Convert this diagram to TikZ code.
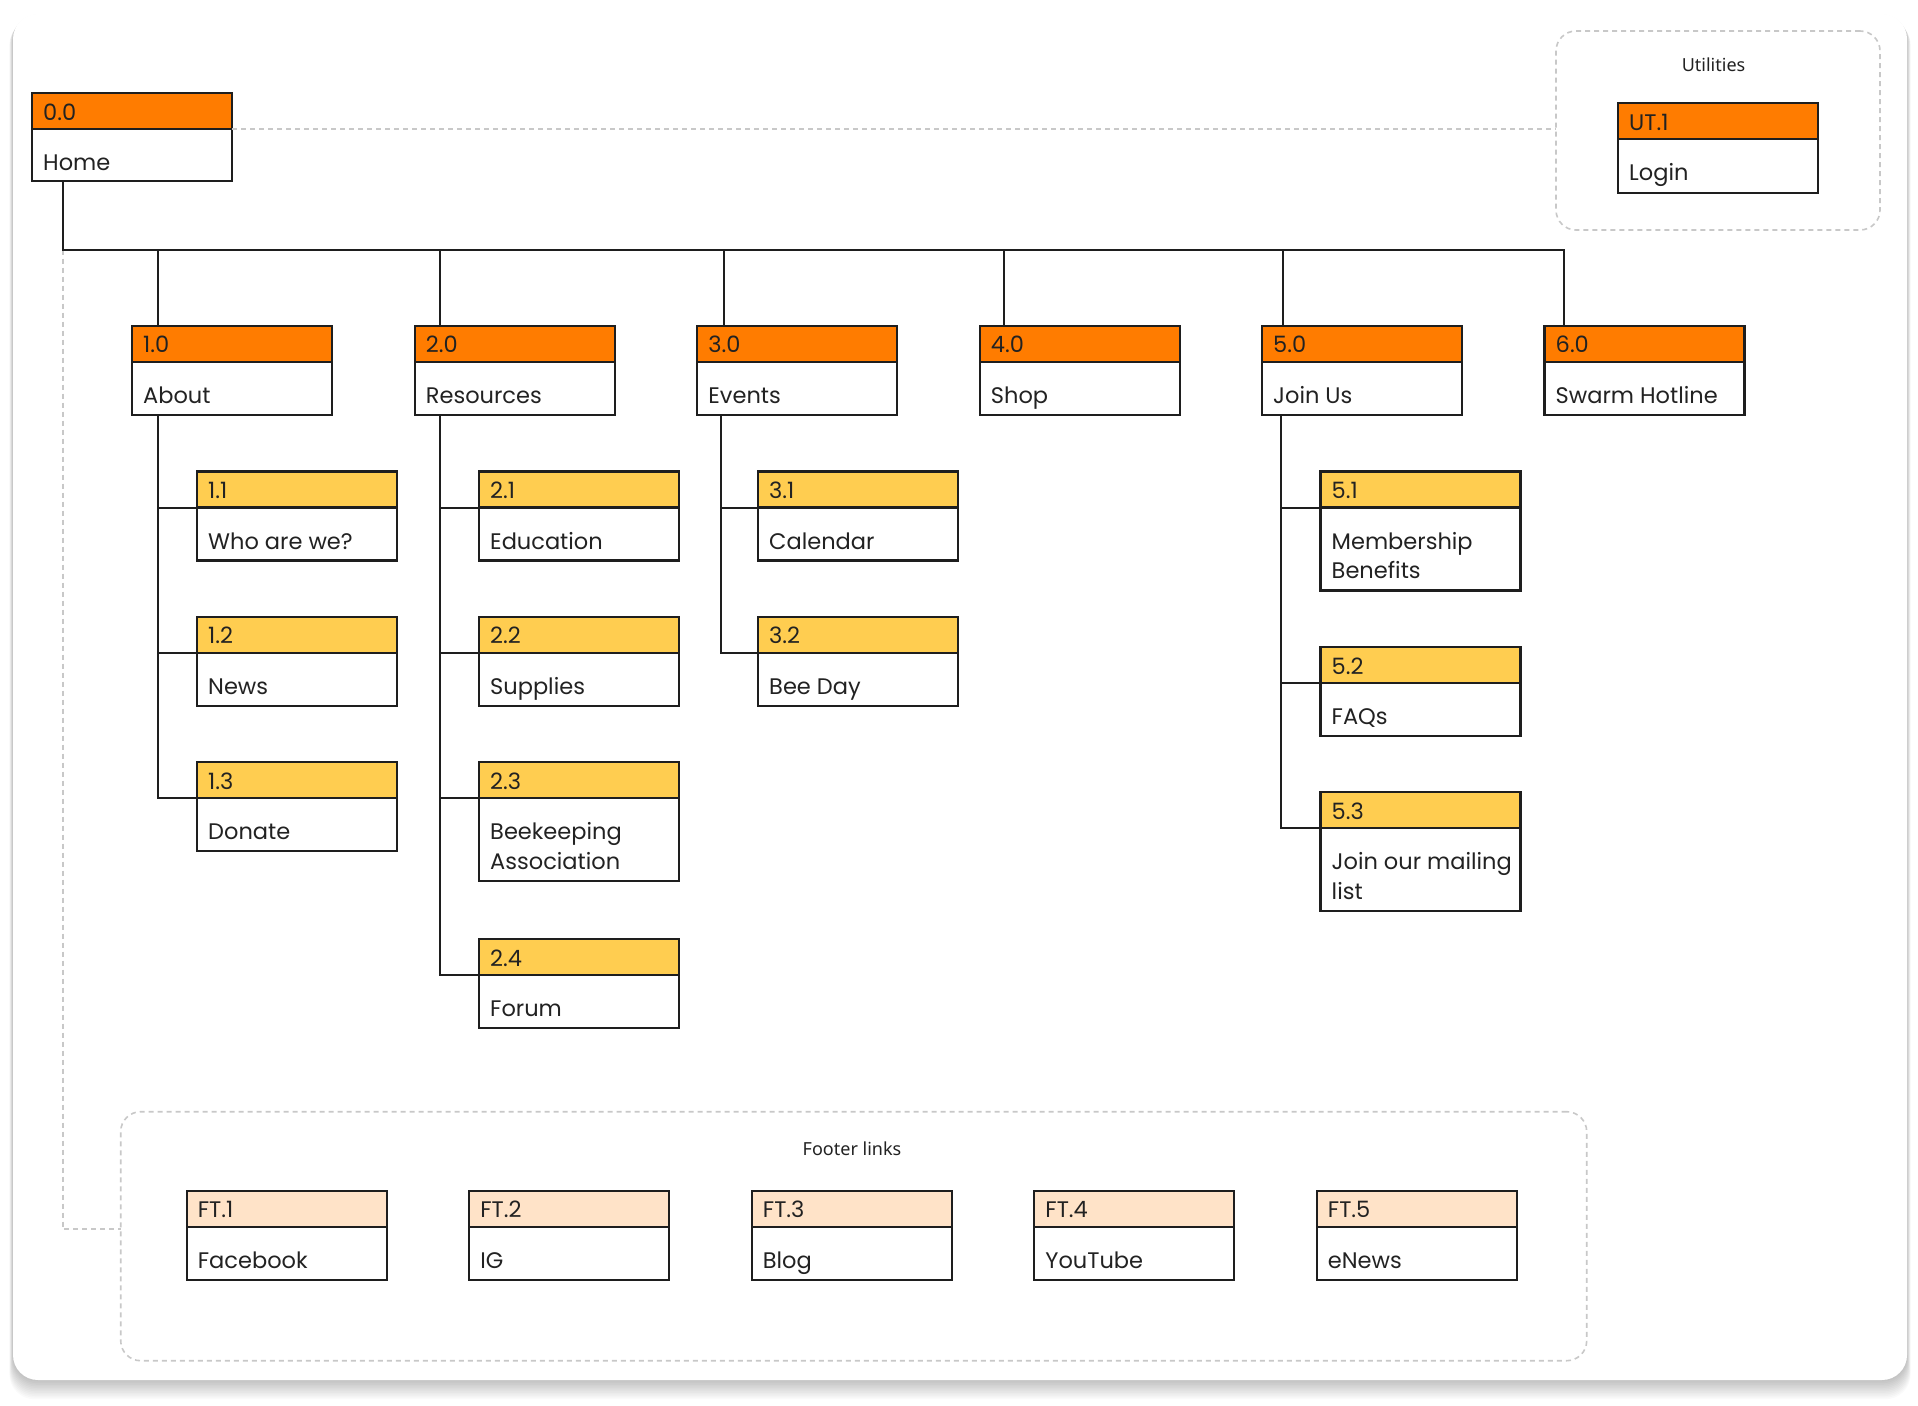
\documentclass[tikz,border=0pt]{standalone}
\usepackage{fontspec}
\setmainfont{Poppins}
\newfontfamily\labelfont{Noto Sans}
\usetikzlibrary{calc}

\definecolor{hdrorange}{HTML}{FF7C00}
\definecolor{hdryellow}{HTML}{FFCD50}
\definecolor{hdrpeach}{HTML}{FFE3C8}
\definecolor{ink}{HTML}{1E1E1E}
\definecolor{textink}{HTML}{222222}
\definecolor{dashgray}{HTML}{C8C8C8}

\tikzset{
  headbox/.style={draw=ink, line width=2.2pt, minimum width=200pt, minimum height=36pt,
    anchor=north west, outer sep=0pt, inner sep=0pt},
  bodybox/.style={draw=ink, line width=2.2pt, fill=white, minimum width=200pt,
    anchor=north west, outer sep=0pt, inner sep=0pt},
  idtext/.style={anchor=base west, inner sep=0pt, text=textink, font=\fontsize{22.5}{29}\selectfont},
  titletext/.style={anchor=base west, inner sep=0pt, text=textink, font=\fontsize{22.5}{29.3}\selectfont},
  link/.style={draw=ink, line width=2pt},
  dashlink/.style={draw=dashgray, line width=1.6pt, dash pattern=on 5pt off 4pt},
  groupbox/.style={draw=dashgray, line width=1.6pt, dash pattern=on 5pt off 4pt,
    rounded corners=20pt, anchor=north west, inner sep=0pt, outer sep=0pt},
  grouplabel/.style={anchor=base, inner sep=0pt, text=textink, font=\labelfont\fontsize{18}{20}\selectfont},
}

% #1 name, #2 x, #3 y, #4 number, #5 title, #6 header colour, #7 body height
\newcommand\pagebox[7]{%
  \node[headbox, fill=#6] (#1h) at (#2,#3) {};
  \node[bodybox, minimum height=#7] (#1) at (#1h.south west) {};
  \node[idtext] (#1id) at ([shift={(11pt,-27pt)}]#1h.north west) {#4};
  \node[titletext] (#1t) at ([shift={(11pt,-41.5pt)}]#1.north west)
    {\parbox[t]{240pt}{\raggedright #5}};
}

\begin{document}
\begin{tikzpicture}[x=1pt, y=-1pt]
\useasboundingbox (0,0) rectangle (1918,1405);
\fill[white] (0,0) rectangle (1918,1405);

% card with soft shadow
\foreach \i in {1,...,12}{
  \fill[black, opacity=0.018, rounded corners=25pt]
    (13-0.3*\i, 14+0.5*\i) rectangle (1907+0.3*\i, 1380+1.6*\i);
}
\fill[white, rounded corners=25pt] (13,14) rectangle (1907,1380);

% group frames
\node[groupbox, minimum width=324pt, minimum height=199pt] (util) at (1556,31) {};
\node[grouplabel] (utillbl) at (1713.5,71.7) {Utilities};
\node[groupbox, minimum width=1466pt, minimum height=249pt] (footer) at (120.7,1111.7) {};
\node[grouplabel] (footlbl) at (852,1155) {Footer links};

% home and first level
\pagebox{home}{32}{93}{0.0}{Home}{hdrorange}{52pt}
\pagebox{n1}{132}{325.7}{1.0}{About}{hdrorange}{53pt}
\pagebox{n2}{414.7}{325.7}{2.0}{Resources}{hdrorange}{53pt}
\pagebox{n3}{697.2}{325.7}{3.0}{Events}{hdrorange}{53pt}
\pagebox{n4}{979.7}{325.7}{4.0}{Shop}{hdrorange}{53pt}
\pagebox{n5}{1262}{325.7}{5.0}{Join Us}{hdrorange}{53pt}
\pagebox{n6}{1544.5}{325.7}{6.0}{Swarm Hotline}{hdrorange}{53pt}

% second level
\pagebox{n11}{197}{471.5}{1.1}{Who are we?}{hdryellow}{53pt}
\pagebox{n12}{197}{616.7}{1.2}{News}{hdryellow}{53pt}
\pagebox{n13}{197}{762}{1.3}{Donate}{hdryellow}{53pt}
\pagebox{n21}{479}{471.5}{2.1}{Education}{hdryellow}{53pt}
\pagebox{n22}{479}{616.7}{2.2}{Supplies}{hdryellow}{53pt}
\pagebox{n23}{479}{762.3}{2.3}{Beekeeping\\Association}{hdryellow}{83pt}
\pagebox{n24}{479}{939}{2.4}{Forum}{hdryellow}{53pt}
\pagebox{n31}{758}{471.5}{3.1}{Calendar}{hdryellow}{53pt}
\pagebox{n32}{758}{616.7}{3.2}{Bee Day}{hdryellow}{53pt}
\pagebox{n51}{1320.5}{471.5}{5.1}{Membership\\Benefits}{hdryellow}{83pt}
\pagebox{n52}{1320.5}{647.3}{5.2}{FAQs}{hdryellow}{53pt}
\pagebox{n53}{1320.5}{792.3}{5.3}{Join our mailing\\list}{hdryellow}{83pt}

% utilities
\pagebox{ut1}{1618}{103}{UT.1}{Login}{hdrorange}{54pt}

% footer links
\pagebox{ft1}{186.7}{1190.7}{FT.1}{Facebook}{hdrpeach}{53pt}
\pagebox{ft2}{469.2}{1190.7}{FT.2}{IG}{hdrpeach}{53pt}
\pagebox{ft3}{751.7}{1190.7}{FT.3}{Blog}{hdrpeach}{53pt}
\pagebox{ft4}{1034.2}{1190.7}{FT.4}{YouTube}{hdrpeach}{53pt}
\pagebox{ft5}{1316.7}{1190.7}{FT.5}{eNews}{hdrpeach}{53pt}

% dashed links to the utility and footer groups
\coordinate (hT) at ([xshift=31pt]home.south west);
\coordinate (bus) at (0,249.5);
\draw[dashlink] (homeh.south east) -- (homeh.south east -| util.west);
\draw[dashlink] (hT |- bus) |- ([yshift=7pt]footer.west);

% main bus from home to the first level
\draw[link] (hT) -- (hT |- bus) -| ([xshift=19pt]n6h.north west);
\coordinate (t1) at ([xshift=26pt]n1h.north west);
\coordinate (t2) at ([xshift=25.5pt]n2h.north west);
\coordinate (t3) at ([xshift=27pt]n3h.north west);
\coordinate (t4) at ([xshift=24.5pt]n4h.north west);
\coordinate (t5) at ([xshift=21pt]n5h.north west);
\foreach \t in {t1,t2,t3,t4,t5}{ \draw[link] (\t) -- (\t |- bus); }

% branches to the second level
\coordinate (r1) at ([xshift=26pt]n1.south west);
\coordinate (r2) at ([xshift=25.3pt]n2.south west);
\coordinate (r3) at ([xshift=23.5pt]n3.south west);
\coordinate (r5) at ([xshift=19pt]n5.south west);
\foreach \c in {n11,n12,n13}{ \draw[link] (r1) |- (\c.north west); }
\foreach \c in {n21,n22,n23,n24}{ \draw[link] (r2) |- (\c.north west); }
\foreach \c in {n31,n32}{ \draw[link] (r3) |- (\c.north west); }
\foreach \c in {n51,n52,n53}{ \draw[link] (r5) |- (\c.north west); }
\end{tikzpicture}
\end{document}
